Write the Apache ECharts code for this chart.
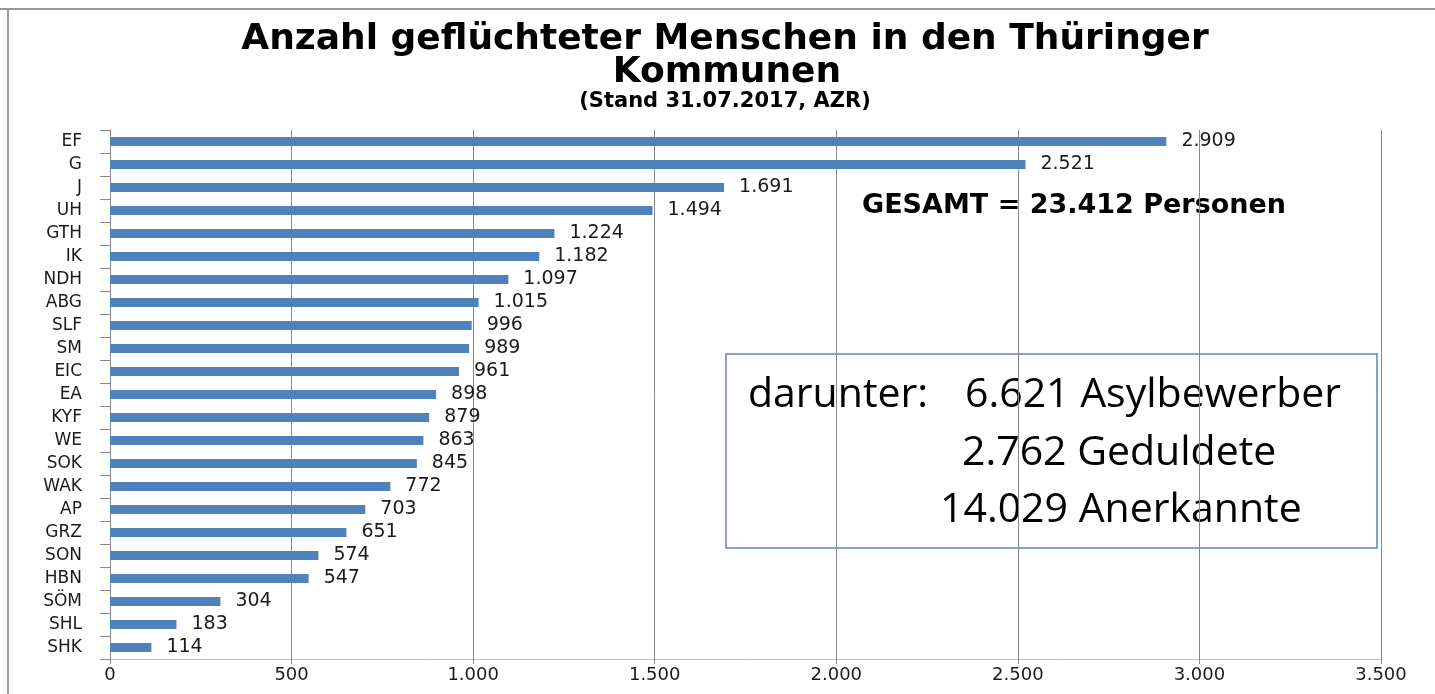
<!DOCTYPE html>
<html>
<head>
<meta charset="utf-8">
<script src="https://cdn.jsdelivr.net/npm/echarts@6/dist/echarts.min.js"></script>
<style>
html,body{margin:0;padding:0;background:#fff;}
#chart{width:1435px;height:694px;}
</style>
</head>
<body>
<div id="chart"></div>
<script>
const categories = ['EF','G','J','UH','GTH','IK','NDH','ABG','SLF','SM','EIC','EA','KYF','WE','SOK','WAK','AP','GRZ','SON','HBN','SÖM','SHL','SHK'];
const values = [2909,2521,1691,1494,1224,1182,1097,1015,996,989,961,898,879,863,845,772,703,651,574,547,304,183,114];
const titleLines = ['Anzahl geflüchteter Menschen in den Thüringer', 'Kommunen'];
const subtitle = '(Stand 31.07.2017, AZR)';
const totalText = 'GESAMT = 23.412 Personen';
const boxLabel = 'darunter:';
const boxLines = ['6.621 Asylbewerber', '2.762 Geduldete', '14.029 Anerkannte'];

function de(v){ return String(v).replace(/\B(?=(\d{3})+(?!\d))/g, '.'); }

const chart = echarts.init(document.getElementById('chart'));
const txt = '#1a1a1a';
chart.setOption({
  animation: false,
  backgroundColor: '#fff',
  grid: { left: 110, right: 54, top: 130, bottom: 35, containLabel: false },
  xAxis: {
    type: 'value', min: 0, max: 3500, interval: 500,
    axisLine: { show: true, lineStyle: { color: '#bfbfbf', width: 1 } },
    axisTick: { show: true, length: 5, lineStyle: { color: '#888' } },
    splitLine: { show: true, lineStyle: { color: '#888', width: 1 } },
    axisLabel: { formatter: de, fontFamily: 'DejaVu Sans', fontSize: 18, color: txt, margin: 7 }
  },
  yAxis: {
    type: 'category', inverse: true, data: categories,
    axisLine: { show: true, lineStyle: { color: '#888', width: 1 } },
    axisTick: { show: true, length: 10, alignWithLabel: false, lineStyle: { color: '#888' } },
    axisLabel: { fontFamily: 'DejaVu Sans', fontSize: 17, color: txt, margin: 28 }
  },
  series: [{
    type: 'bar', data: values, barWidth: 9,
    itemStyle: { color: '#4F81BD' },
    label: { show: true, position: 'right', distance: 15, formatter: p => de(p.value),
      fontFamily: 'DejaVu Sans', fontSize: 19, color: txt }
  }],
  graphic: [
    { type: 'line', shape: { x1: 0, y1: 9, x2: 1435, y2: 9 }, style: { stroke: '#9a9a9a', lineWidth: 2 } },
    { type: 'line', shape: { x1: 8, y1: 9, x2: 8, y2: 694 }, style: { stroke: '#9a9a9a', lineWidth: 2 } },
    { type: 'text', x: 725, y: 40, style: { text: titleLines[0], font: 'bold 36px "DejaVu Sans"', fill: '#000', textAlign: 'center', textVerticalAlign: 'middle' } },
    { type: 'text', x: 727, y: 73, style: { text: titleLines[1], font: 'bold 36px "DejaVu Sans"', fill: '#000', textAlign: 'center', textVerticalAlign: 'middle' } },
    { type: 'text', x: 725, y: 102, style: { text: subtitle, font: 'bold 21px "DejaVu Sans"', fill: '#000', textAlign: 'center', textVerticalAlign: 'middle' } },
    { type: 'text', x: 862, y: 206, style: { text: totalText, font: 'bold 27px "DejaVu Sans"', fill: '#000', textAlign: 'left', textVerticalAlign: 'middle' } },
    { type: 'rect', shape: { x: 726, y: 354, width: 651, height: 194 }, style: { fill: 'none', stroke: '#5b87c4', lineWidth: 1.5 } },
    { type: 'text', x: 748, y: 395, style: { text: boxLabel, font: '41px "Open Sans"', fill: '#000', textAlign: 'left', textVerticalAlign: 'middle' } },
    { type: 'text', x: 965, y: 395, style: { text: boxLines[0], font: '41px "Open Sans"', fill: '#000', textAlign: 'left', textVerticalAlign: 'middle' } },
    { type: 'text', x: 962, y: 453, style: { text: boxLines[1], font: '41px "Open Sans"', fill: '#000', textAlign: 'left', textVerticalAlign: 'middle' } },
    { type: 'text', x: 940, y: 510, style: { text: boxLines[2], font: '41px "Open Sans"', fill: '#000', textAlign: 'left', textVerticalAlign: 'middle' } }
  ]
});
</script>
</body>
</html>
